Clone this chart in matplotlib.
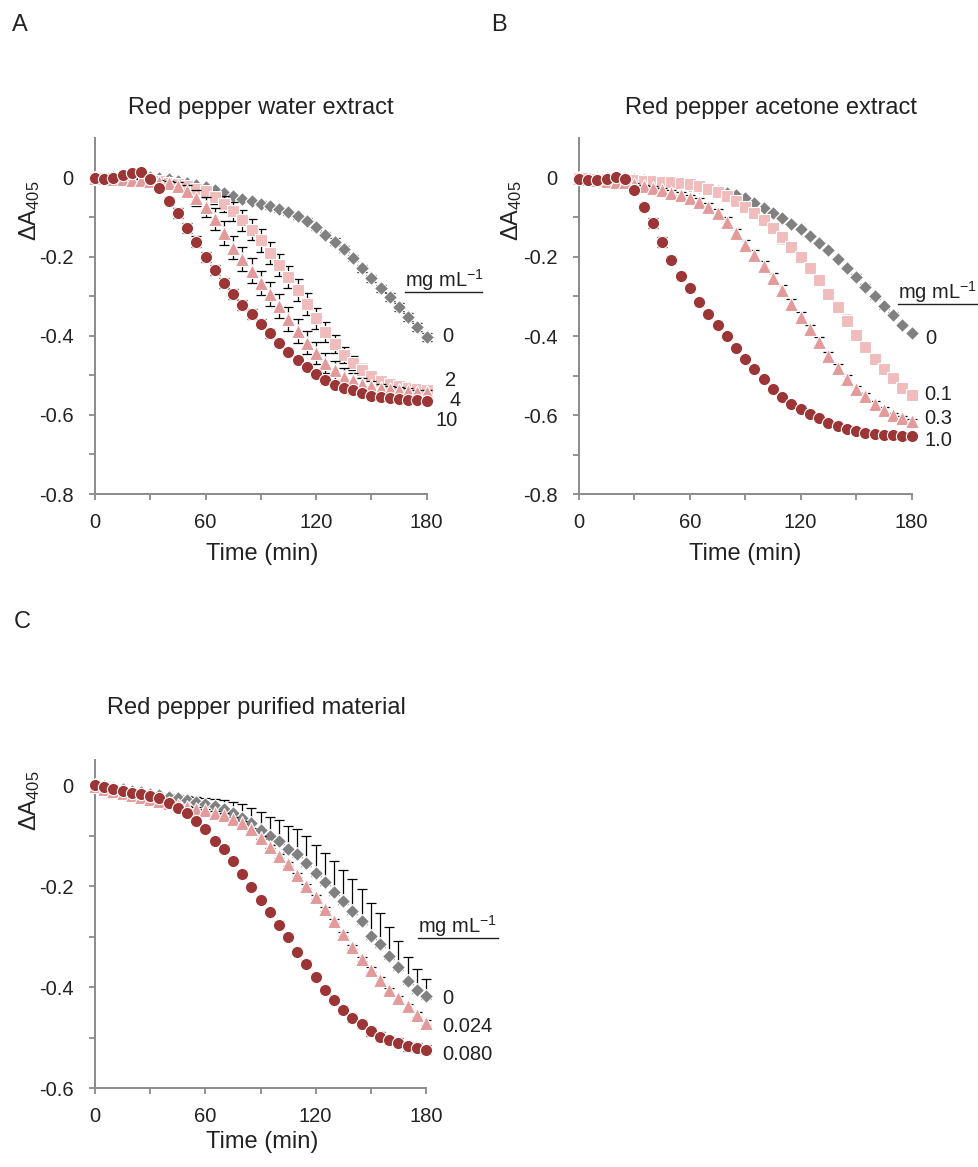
import matplotlib
matplotlib.use("Agg")
import matplotlib.pyplot as plt
from matplotlib.lines import Line2D
import numpy as np

plt.rcParams.update({"font.family": ["Liberation Sans", "DejaVu Sans"],
                     "axes.unicode_minus": False,
                     "mathtext.fontset": "custom",
                     "mathtext.rm": "Liberation Sans",
                     "mathtext.default": "regular"})

W, H = 979, 1167
TIME = np.arange(0, 181, 5)

# ── Panel A: water extract (mg/mL 0, 2, 4, 10) ──────────────────────────────
A0 = [0, 0, 0.001, 0.002, 0.002, 0.002, 0.001, -0.001, -0.004, -0.008, -0.013, -0.018,
      -0.024, -0.031, -0.039, -0.047, -0.054, -0.059, -0.066, -0.073, -0.08, -0.088,
      -0.098, -0.109, -0.126, -0.144, -0.162, -0.181, -0.204, -0.229, -0.255, -0.28,
      -0.303, -0.327, -0.352, -0.377, -0.404]
A2 = [0, 0, -0.001, -0.002, -0.003, -0.004, -0.006, -0.009, -0.013, -0.017, -0.022, -0.028,
      -0.035, -0.05, -0.067, -0.085, -0.108, -0.132, -0.159, -0.19, -0.221, -0.252,
      -0.284, -0.32, -0.356, -0.39, -0.421, -0.449, -0.469, -0.487, -0.502, -0.514,
      -0.522, -0.527, -0.531, -0.534, -0.536]
A4 = [0, -0.001, -0.003, -0.004, -0.005, -0.006, -0.008, -0.011, -0.015, -0.022, -0.035,
      -0.052, -0.074, -0.105, -0.14, -0.177, -0.206, -0.235, -0.266, -0.294, -0.325,
      -0.357, -0.388, -0.418, -0.443, -0.469, -0.487, -0.503, -0.513, -0.521, -0.527,
      -0.532, -0.535, -0.538, -0.54, -0.542, -0.543]
A10 = [0, -0.003, 0, 0.006, 0.012, 0.014, -0.003, -0.026, -0.06, -0.09, -0.128, -0.162,
       -0.201, -0.234, -0.267, -0.294, -0.322, -0.345, -0.369, -0.394, -0.418, -0.441,
       -0.462, -0.48, -0.497, -0.513, -0.524, -0.531, -0.538, -0.544, -0.551, -0.555,
       -0.558, -0.56, -0.562, -0.563, -0.566]
A0_err = [0.002, 0.002, 0.003, 0.003, 0.004, 0.004, 0.005, 0.005, 0.005, 0.005, 0.005, 0.005,
          0.005, 0.005, 0.005, 0.005, 0.005, 0.006, 0.006, 0.006, 0.006, 0.006, 0.006, 0.007,
          0.007, 0.007, 0.008, 0.008, 0.008, 0.009, 0.009, 0.009, 0.01, 0.01, 0.01, 0.01, 0.01]
A2_err = [0.002, 0.002, 0.002, 0.002, 0.002, 0.003, 0.003, 0.004, 0.005, 0.006, 0.008, 0.01,
          0.013, 0.017, 0.021, 0.024, 0.026, 0.027, 0.028, 0.028, 0.028, 0.028, 0.027, 0.027,
          0.026, 0.025, 0.023, 0.021, 0.018, 0.015, 0.013, 0.011, 0.01, 0.009, 0.008, 0.007, 0.007]
A4_err = [0.002, 0.002, 0.002, 0.002, 0.003, 0.003, 0.004, 0.005, 0.007, 0.01, 0.015, 0.02,
          0.025, 0.028, 0.03, 0.03, 0.03, 0.031, 0.031, 0.031, 0.03, 0.03, 0.03, 0.029,
          0.028, 0.026, 0.024, 0.021, 0.018, 0.015, 0.012, 0.01, 0.009, 0.008, 0.007, 0.006, 0.006]
A10_err = [0.002, 0.002, 0.002, 0.002, 0.003, 0.003, 0.005, 0.008, 0.01, 0.012, 0.012, 0.013,
           0.013, 0.013, 0.013, 0.012, 0.012, 0.012, 0.012, 0.012, 0.011, 0.011, 0.01, 0.01,
           0.01, 0.009, 0.009, 0.008, 0.008, 0.008, 0.007, 0.007, 0.007, 0.006, 0.006, 0.006, 0.006]

# ── Panel B: acetone extract (mg/mL 0, 0.1, 0.3, 1.0) ───────────────────────
B0 = [0, 0, 0, 0, 0, -0.001, -0.003, -0.005, -0.008, -0.011, -0.014, -0.017, -0.02,
      -0.024, -0.028, -0.033, -0.038, -0.044, -0.052, -0.063, -0.076, -0.09, -0.103,
      -0.117, -0.13, -0.147, -0.164, -0.183, -0.206, -0.229, -0.25, -0.275, -0.3,
      -0.325, -0.346, -0.372, -0.392]
B01 = [-0.001, -0.002, -0.003, -0.004, -0.005, -0.006, -0.007, -0.008, -0.009, -0.01,
       -0.011, -0.013, -0.016, -0.021, -0.028, -0.037, -0.047, -0.059, -0.073, -0.089,
       -0.107, -0.128, -0.151, -0.176, -0.201, -0.229, -0.258, -0.293, -0.327, -0.361,
       -0.397, -0.428, -0.457, -0.483, -0.506, -0.531, -0.55]
B03 = [-0.002, -0.004, -0.006, -0.008, -0.01, -0.012, -0.017, -0.022, -0.027, -0.032,
       -0.038, -0.045, -0.052, -0.062, -0.075, -0.09, -0.111, -0.141, -0.17, -0.195,
       -0.223, -0.254, -0.283, -0.319, -0.351, -0.382, -0.414, -0.45, -0.481, -0.508,
       -0.534, -0.552, -0.571, -0.586, -0.6, -0.607, -0.615]
B10 = [-0.004, -0.006, -0.006, -0.004, 0.002, -0.004, -0.031, -0.074, -0.114, -0.162,
       -0.208, -0.248, -0.279, -0.315, -0.344, -0.373, -0.401, -0.43, -0.458, -0.483,
       -0.508, -0.534, -0.554, -0.571, -0.584, -0.596, -0.607, -0.619, -0.628, -0.634,
       -0.64, -0.644, -0.647, -0.649, -0.65, -0.652, -0.653]
B0_err = [0.002, 0.002, 0.002, 0.002, 0.002, 0.002, 0.002, 0.002, 0.002, 0.002,
          0.003, 0.003, 0.003, 0.003, 0.003, 0.003, 0.003, 0.003, 0.004, 0.004, 0.004,
          0.004, 0.004, 0.004, 0.005, 0.005, 0.005, 0.005, 0.005, 0.005, 0.006, 0.006,
          0.006, 0.006, 0.006, 0.006, 0.006]
B01_err = [0.002, 0.002, 0.002, 0.002, 0.002, 0.002, 0.002, 0.002, 0.003, 0.003, 0.004,
           0.004, 0.005, 0.006, 0.007, 0.008, 0.009, 0.01, 0.011, 0.012, 0.013, 0.013,
           0.013, 0.013, 0.013, 0.013, 0.013, 0.013, 0.013, 0.013, 0.012, 0.012, 0.011,
           0.011, 0.01, 0.01, 0.009]
B03_err = [0.002, 0.002, 0.002, 0.002, 0.002, 0.002, 0.003, 0.004, 0.005, 0.006, 0.007,
           0.008, 0.009, 0.01, 0.011, 0.012, 0.012, 0.012, 0.012, 0.012, 0.012, 0.012,
           0.012, 0.012, 0.012, 0.011, 0.011, 0.01, 0.01, 0.009, 0.009, 0.008, 0.008,
           0.007, 0.007, 0.006, 0.006]
B10_err = [0.002, 0.002, 0.002, 0.002, 0.002, 0.002, 0.006, 0.01, 0.012, 0.012, 0.011,
           0.01, 0.009, 0.008, 0.008, 0.007, 0.007, 0.006, 0.006, 0.006, 0.005, 0.005,
           0.005, 0.005, 0.004, 0.004, 0.004, 0.004, 0.004, 0.003, 0.003, 0.003, 0.003,
           0.003, 0.003, 0.003, 0.003]

# ── Panel C: purified material (mg/mL 0, 0.024, 0.080) ──────────────────────
C0 = [0, -0.002, -0.005, -0.008, -0.011, -0.014, -0.017, -0.02, -0.023, -0.026, -0.03,
      -0.033, -0.037, -0.042, -0.048, -0.055, -0.064, -0.075, -0.088, -0.101, -0.111,
      -0.126, -0.137, -0.154, -0.174, -0.192, -0.211, -0.229, -0.249, -0.269, -0.298,
      -0.315, -0.338, -0.361, -0.387, -0.405, -0.418]
C024 = [-0.002, -0.007, -0.012, -0.016, -0.02, -0.024, -0.028, -0.032, -0.036, -0.04,
        -0.044, -0.047, -0.05, -0.055, -0.059, -0.066, -0.074, -0.087, -0.104, -0.122,
        -0.14, -0.157, -0.177, -0.199, -0.222, -0.245, -0.269, -0.294, -0.32, -0.345,
        -0.366, -0.386, -0.406, -0.422, -0.438, -0.455, -0.471]
C080 = [0, -0.004, -0.008, -0.012, -0.015, -0.018, -0.022, -0.025, -0.035, -0.045, -0.056,
        -0.071, -0.087, -0.11, -0.127, -0.15, -0.176, -0.201, -0.227, -0.251, -0.276,
        -0.301, -0.33, -0.354, -0.381, -0.406, -0.425, -0.445, -0.461, -0.474, -0.488,
        -0.498, -0.504, -0.51, -0.517, -0.52, -0.524]
C0_err_hi = [0.002, 0.002, 0.002, 0.002, 0.002, 0.002, 0.003, 0.004, 0.005, 0.006, 0.008,
             0.01, 0.012, 0.015, 0.018, 0.022, 0.026, 0.03, 0.034, 0.038, 0.042, 0.046,
             0.05, 0.053, 0.056, 0.058, 0.06, 0.062, 0.063, 0.064, 0.064, 0.062, 0.058,
             0.053, 0.047, 0.041, 0.034]
C0_err_lo = [0.002, 0.002, 0.002, 0.002, 0.002, 0.002, 0.002, 0.002, 0.002, 0.002, 0.004,
             0.004, 0.004, 0.004, 0.004, 0.004, 0.004, 0.004, 0.004, 0.004, 0.006, 0.006,
             0.006, 0.006, 0.006, 0.006, 0.006, 0.006, 0.006, 0.006, 0.006, 0.006, 0.006,
             0.006, 0.006, 0.006, 0.006]
C024_err = [0.002, 0.002, 0.002, 0.002, 0.002, 0.002, 0.002, 0.002, 0.002, 0.002, 0.003,
            0.003, 0.003, 0.003, 0.003, 0.003, 0.003, 0.003, 0.003, 0.003, 0.004, 0.004,
            0.004, 0.004, 0.004, 0.004, 0.004, 0.004, 0.004, 0.004, 0.005, 0.005, 0.005,
            0.005, 0.005, 0.005, 0.005]
C080_err = [0.002, 0.002, 0.002, 0.002, 0.002, 0.002, 0.002, 0.002, 0.003, 0.003, 0.004,
            0.004, 0.005, 0.005, 0.005, 0.005, 0.005, 0.006, 0.006, 0.006, 0.006, 0.006,
            0.007, 0.007, 0.007, 0.007, 0.007, 0.008, 0.008, 0.008, 0.008, 0.008, 0.008,
            0.009, 0.009, 0.009, 0.009]

# marker styles
GREY, LIGHT, MID, DARK = "#808080", "#F0BCBC", "#E39A9A", "#9C3535"
STY = {"dia": dict(marker="D", ms=7.4, mfc=GREY),
       "sq": dict(marker="s", ms=8.2, mfc=LIGHT),
       "tri": dict(marker="^", ms=9.8, mfc=MID),
       "dot": dict(marker="o", ms=8.8, mfc=DARK)}
AXC = "#8a8a8a"
TXT = "#222222"


def fx(x):
    return x / W


def fy(y):
    return 1 - y / H


def panel(rect, series, ylo, yhi, ylabels):
    ax = fig.add_axes(rect)
    for z, (vals, err, key) in enumerate(series):
        ax.errorbar(TIME, vals, yerr=err, fmt="none", ecolor="black", elinewidth=0.9,
                    capsize=3.6, capthick=0.9, zorder=2 + 2 * z, clip_on=False)
        ax.plot(TIME, vals, ls="none", mec="white", mew=0.8, zorder=3 + 2 * z,
                clip_on=False, **STY[key])
    ax.set_xlim(0, 180)
    ax.set_ylim(ylo, yhi)
    ax.set_xticks([0, 60, 120, 180])
    ax.set_xticks([30, 90, 150], minor=True)
    ax.set_yticks([float(v) for v in ylabels])
    ax.set_yticklabels(ylabels)
    ax.set_yticks(np.arange(ylo + 0.1, 0.0, 0.2), minor=True)
    for s in ["top", "right"]:
        ax.spines[s].set_visible(False)
    for s in ["left", "bottom"]:
        ax.spines[s].set_color(AXC)
        ax.spines[s].set_linewidth(1.4)
    ax.tick_params(which="both", direction="out", length=4.5, width=1.3, color=AXC,
                   labelsize=14.5, labelcolor=TXT)
    ax.tick_params(axis="x", pad=9)
    ax.tick_params(axis="y", pad=11)
    ax.patch.set_alpha(0)
    return ax


def legend(x, y, x2, labels):
    fig.text(fx(x), fy(y), "mg mL$^{-1}$", fontsize=14.5, color=TXT, ha="left", va="center")
    fig.add_artist(Line2D([fx(x), fx(x2)], [fy(y + 12), fy(y + 12)], color=TXT, lw=1.0))
    for lx, ly, t in labels:
        fig.text(fx(lx), fy(ly), t, fontsize=14.5, color=TXT, ha="center", va="center")


fig = plt.figure(figsize=(W / 100, H / 100), dpi=100)

panel([fx(95), fy(494), 331.7 / W, 356 / H],
      [(A0, A0_err, "dia"), (A2, A2_err, "sq"), (A4, A4_err, "tri"), (A10, A10_err, "dot")],
      -0.8, 0.1, ["-0.8", "-0.6", "-0.4", "-0.2", "0"])
panel([fx(579), fy(494.5), 332.5 / W, 356.5 / H],
      [(B0, B0_err, "dia"), (B01, B01_err, "sq"), (B03, B03_err, "tri"), (B10, B10_err, "dot")],
      -0.8, 0.1, ["-0.8", "-0.6", "-0.4", "-0.2", "0"])
panel([fx(95), fy(1088), 331 / W, 328 / H],
      [(C0, [C0_err_lo, C0_err_hi], "dia"), (C024, C024_err, "tri"), (C080, C080_err, "dot")],
      -0.6, 0.05, ["-0.6", "-0.4", "-0.2", "0"])

# titles, axis labels, panel letters
for x, y, t in [(261, 108, "Red pepper water extract"), (771, 108, "Red pepper acetone extract"),
                (256, 708, "Red pepper purified material")]:
    fig.text(fx(x), fy(y), t, fontsize=17, color=TXT, ha="center", va="center")
for x, y in [(262, 554), (745, 554), (262, 1142)]:
    fig.text(fx(x), fy(y), "Time (min)", fontsize=17, color=TXT, ha="center", va="center")
for x, y in [(30, 211), (512, 211), (30, 801)]:
    fig.text(fx(x), fy(y), "ΔA$_{405}$", fontsize=17, color=TXT, rotation=90,
             ha="center", va="center")
for x, y, t in [(20, 25, "A"), (499, 25, "B"), (22, 622, "C")]:
    fig.text(fx(x), fy(y), t, fontsize=17, color=TXT, ha="center", va="center")

legend(405, 280, 482, [(448, 337, "0"), (451, 380, "2"), (455, 400, "4"), (447, 420, "10")])
legend(898, 292, 977, [(931, 338, "0"), (938, 395, "0.1"), (938, 418, "0.3"), (938, 440, "1.0")])
legend(418, 926, 498, [(448, 998, "0"), (467, 1027, "0.024"), (467, 1055, "0.080")])

fig.savefig("out.png", dpi=100)
